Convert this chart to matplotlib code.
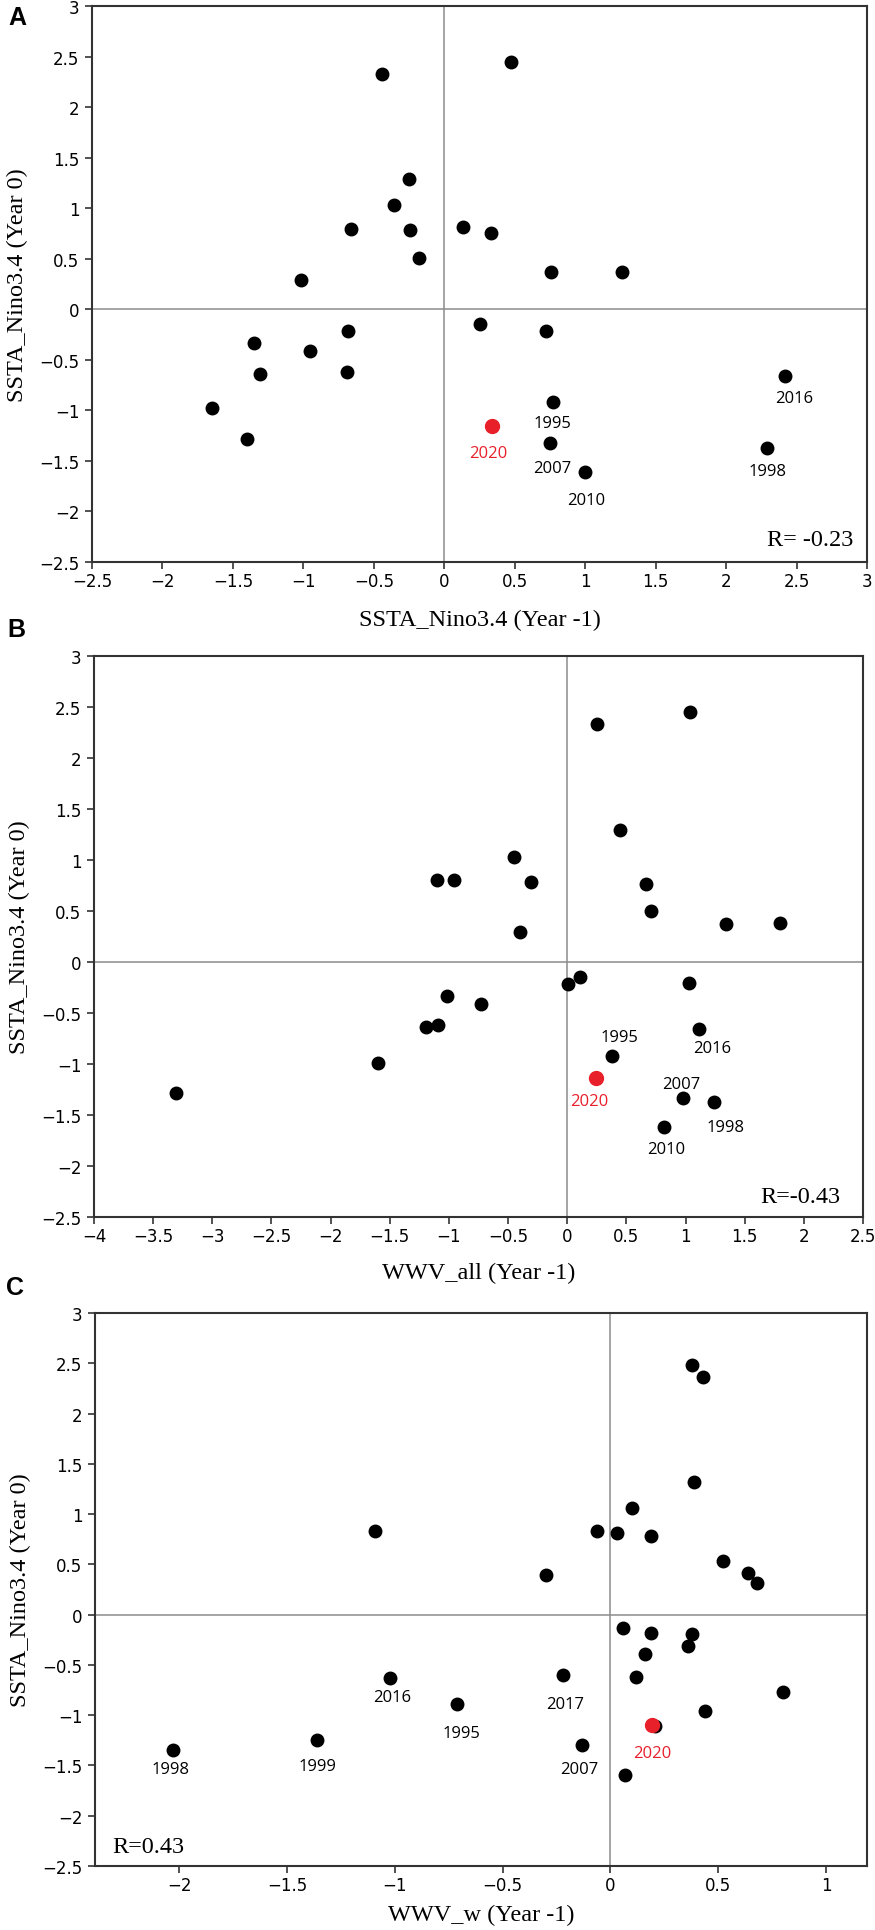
import matplotlib
matplotlib.use("Agg")
import matplotlib.pyplot as plt

# ---------------- data ----------------
# Panel A: SSTA_Nino3.4 (Year -1) vs SSTA_Nino3.4 (Year 0)
a_x = [-0.44, 0.47, -0.25, -0.36, -0.66, -0.24, -0.18, 0.13, 0.33, -1.02, 0.76, 1.26,
       0.25, 0.72, -0.68, -1.35, -0.95, -1.31, -0.69, -1.65, -1.40,
       0.77, 0.75, 1.00, 2.42, 2.29]
a_y = [2.33, 2.45, 1.29, 1.03, 0.79, 0.78, 0.51, 0.81, 0.75, 0.29, 0.37, 0.37,
       -0.15, -0.21, -0.21, -0.33, -0.41, -0.64, -0.62, -0.98, -1.28,
       -0.92, -1.32, -1.61, -0.66, -1.37]
a_years = [None] * 21 + ["1995", "2007", "2010", "2016", "1998"]
a_2020 = (0.34, -1.15)

# Panel B: WWV_all (Year -1) vs SSTA_Nino3.4 (Year 0)
b_x = [0.25, 1.04, 0.45, -0.45, -1.10, -0.96, -0.31, 0.67, 0.71, -0.40, 1.34, 1.80,
       0.01, 0.11, 1.03, -1.02, -0.73, -1.19, -1.09, -1.60, -3.31,
       0.38, 1.11, 0.98, 1.24, 0.82]
b_y = [2.33, 2.45, 1.29, 1.03, 0.80, 0.80, 0.78, 0.76, 0.50, 0.29, 0.37, 0.38,
       -0.22, -0.15, -0.21, -0.33, -0.41, -0.64, -0.62, -0.99, -1.28,
       -0.92, -0.66, -1.33, -1.37, -1.62]
b_years = [None] * 21 + ["1995", "2016", "2007", "1998", "2010"]
b_2020 = (0.24, -1.14)

# Panel C: WWV_w (Year -1) vs SSTA_Nino3.4 (Year 0)
c_x = [0.38, 0.43, 0.39, 0.10, -1.09, -0.06, 0.03, 0.19, 0.52, -0.30, 0.64, 0.68,
       0.06, 0.19, 0.38, 0.36, 0.16, 0.12, 0.80, 0.44, 0.07, 0.205,
       -0.22, -1.02, -0.71, -0.13, -1.36, -2.03]
c_y = [2.48, 2.36, 1.32, 1.06, 0.83, 0.83, 0.81, 0.78, 0.53, 0.39, 0.41, 0.31,
       -0.13, -0.18, -0.19, -0.31, -0.39, -0.62, -0.77, -0.96, -1.59, -1.11,
       -0.60, -0.63, -0.89, -1.30, -1.25, -1.35]
c_years = [None] * 22 + ["2017", "2016", "1995", "2007", "1999", "1998"]
c_2020 = (0.195, -1.095)

xlabels = ["SSTA_Nino3.4 (Year -1)", "WWV_all (Year -1)", "WWV_w (Year -1)"]
ylabel = "SSTA_Nino3.4 (Year 0)"
r_texts = ["R= -0.23", "R=-0.43", "R=0.43"]
panel_letters = ["A", "B", "C"]

# ---------------- layout ----------------
W, H = 875, 1931
fig = plt.figure(figsize=(W / 100, H / 100), dpi=100)

def frac(left, right, top, bottom):
    return [left / W, 1 - bottom / H, (right - left) / W, (bottom - top) / H]

axes_px = [(92, 867, 7, 563), (94, 863, 657, 1218), (95, 867, 1314, 1867)]
xlims = [(-2.5, 3), (-4, 2.5), (-2.39, 1.19)]
xticks = [[-2.5, -2, -1.5, -1, -0.5, 0, 0.5, 1, 1.5, 2, 2.5, 3],
          [-4, -3.5, -3, -2.5, -2, -1.5, -1, -0.5, 0, 0.5, 1, 1.5, 2, 2.5],
          [-2, -1.5, -1, -0.5, 0, 0.5, 1]]
yticks = [-2.5, -2, -1.5, -1, -0.5, 0, 0.5, 1, 1.5, 2, 2.5, 3]
xlabelpads = [13.5, 12.5, 7.5]

# label offsets in pixels (dx, dy) relative to point
offsets = [
    {"1995": (0, -21), "2007": (2, -25), "2010": (1, -28), "2016": (9, -22), "1998": (1, -23), "2020": (-4, -27)},
    {"1995": (7, 19), "2016": (14, -19), "2007": (-2, 14), "1998": (12, -25), "2010": (2, -22), "2020": (-6, -23)},
    {"2017": (2, -29), "2016": (2, -19), "1995": (4, -29), "2007": (-3, -24), "1999": (0, -26), "1998": (-2, -19), "2020": (0, -28)},
]
r_pos = [(0.982, 0.041, "right"), (0.970, 0.037, "right"), (0.022, 0.036, "left")]
letter_px = [(17, 18), (16, 630), (15, 1288)]

datasets = [(a_x, a_y, a_years, a_2020), (b_x, b_y, b_years, b_2020), (c_x, c_y, c_years, c_2020)]

fmt = lambda v: ("%g" % v).replace("-", "\u2212")

for i, (xs, ys, yrs, p20) in enumerate(datasets):
    ax = fig.add_axes(frac(*axes_px[i]))
    ax.set_xlim(*xlims[i])
    ax.set_ylim(-2.5, 3)
    ax.axhline(0, color="#8c8c8c", lw=1.1, zorder=1)
    ax.axvline(0, color="#8c8c8c", lw=1.1, zorder=1)
    ax.plot(xs, ys, "o", color="black", ms=9, mec="black", zorder=3)
    ax.plot([p20[0]], [p20[1]], "o", color="#e8202a", ms=10, mec="#e8202a", zorder=4)
    for x, y, yr in zip(xs, ys, yrs):
        if yr:
            dx, dy = offsets[i][yr]
            ax.annotate(yr, (x, y), xytext=(dx, dy), textcoords="offset pixels",
                        ha="center", va="center", fontsize=12, family="Open Sans",
                        color="black", zorder=5)
    dx, dy = offsets[i]["2020"]
    ax.annotate("2020", p20, xytext=(dx, dy), textcoords="offset pixels",
                ha="center", va="center", fontsize=12, family="Open Sans",
                color="#e8202a", zorder=5)

    ax.set_xticks(xticks[i])
    ax.set_yticks(yticks)
    ax.set_xticklabels([fmt(v) for v in xticks[i]])
    ax.set_yticklabels([fmt(v) for v in yticks])
    ax.tick_params(direction="out", length=5, width=1.2, color="#333333",
                   labelsize=12, top=False, right=False)
    ax.tick_params(axis="x", pad=2)
    ax.tick_params(axis="y", pad=4)
    for s in ax.spines.values():
        s.set_color("#333333")
        s.set_linewidth(1.5)

    ax.set_xlabel(xlabels[i], family="Liberation Serif", fontsize=17.5, labelpad=xlabelpads[i])
    ax.set_ylabel(ylabel, family="Liberation Serif", fontsize=17.5, labelpad=8)

    rx, ry, ha = r_pos[i]
    ax.text(rx, ry, r_texts[i], transform=ax.transAxes, ha=ha, va="center",
            family="Liberation Serif", fontsize=17.5)

    lx, ly = letter_px[i]
    fig.text(lx / W, 1 - ly / H, panel_letters[i], ha="center", va="center",
             fontsize=18, fontweight="bold", family="Liberation Sans")

fig.savefig("out.png", dpi=100)
